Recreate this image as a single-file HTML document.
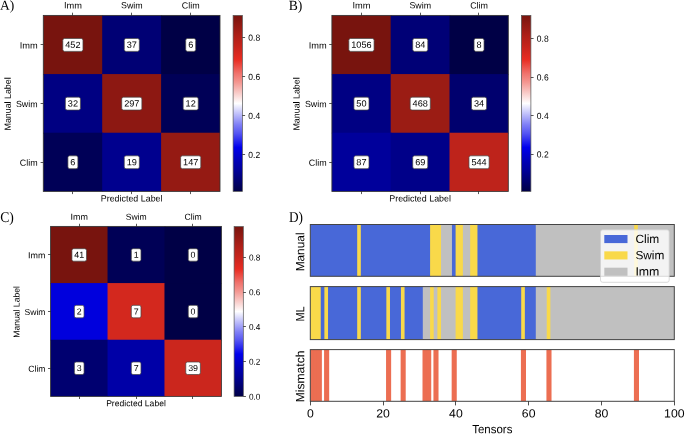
<!DOCTYPE html>
<html><head><meta charset="utf-8"><style>html,body{margin:0;padding:0;background:#fff;}svg{display:block;} text{-webkit-font-smoothing:antialiased;}</style></head>
<body><svg style="will-change:transform" width="685" height="434" viewBox="0 0 685 434" font-family='"Liberation Sans", sans-serif' text-rendering="geometricPrecision"><rect width="685" height="434" fill="#fff"/><rect x="43.3" y="15.4" width="59.9" height="59.67" fill="#78140e" /><rect x="102.2" y="15.4" width="59.9" height="59.67" fill="#000074" /><rect x="161.1" y="15.4" width="58.9" height="59.67" fill="#000046" /><rect x="43.3" y="74.07" width="59.9" height="59.67" fill="#000082" /><rect x="102.2" y="74.07" width="59.9" height="59.67" fill="#8d1812" /><rect x="161.1" y="74.07" width="58.9" height="59.67" fill="#000057" /><rect x="43.3" y="132.73" width="59.9" height="58.67" fill="#000057" /><rect x="102.2" y="132.73" width="59.9" height="58.67" fill="#00008e" /><rect x="161.1" y="132.73" width="58.9" height="58.67" fill="#951a13" /><rect x="43.3" y="15.4" width="176.7" height="176" fill="none" stroke="#333" stroke-width="0.85"/><line x1="72.5" y1="15.4" x2="72.5" y2="12.7" stroke="#222" stroke-width="0.75"/><line x1="72.5" y1="191.4" x2="72.5" y2="194.1" stroke="#222" stroke-width="0.75"/><line x1="43.3" y1="44.5" x2="40.6" y2="44.5" stroke="#222" stroke-width="0.75"/><text x="72.95" y="8.4" font-size="8.96" text-anchor="middle" fill="#000" textLength="17.95" lengthAdjust="spacingAndGlyphs" transform="rotate(0.1 72.95 8.4)" >Imm</text><text x="37.6" y="48.48" font-size="8.96" text-anchor="end" fill="#000" textLength="17.95" lengthAdjust="spacingAndGlyphs" transform="rotate(0.1 37.6 48.48)" >Imm</text><line x1="131.5" y1="15.4" x2="131.5" y2="12.7" stroke="#222" stroke-width="0.75"/><line x1="131.5" y1="191.4" x2="131.5" y2="194.1" stroke="#222" stroke-width="0.75"/><line x1="43.3" y1="103.5" x2="40.6" y2="103.5" stroke="#222" stroke-width="0.75"/><text x="131.85" y="8.4" font-size="8.96" text-anchor="middle" fill="#000" textLength="21.64" lengthAdjust="spacingAndGlyphs" transform="rotate(0.1 131.85 8.4)" >Swim</text><text x="37.6" y="107.15" font-size="8.96" text-anchor="end" fill="#000" textLength="21.64" lengthAdjust="spacingAndGlyphs" transform="rotate(0.1 37.6 107.15)" >Swim</text><line x1="190.5" y1="15.4" x2="190.5" y2="12.7" stroke="#222" stroke-width="0.75"/><line x1="190.5" y1="191.4" x2="190.5" y2="194.1" stroke="#222" stroke-width="0.75"/><line x1="43.3" y1="162.5" x2="40.6" y2="162.5" stroke="#222" stroke-width="0.75"/><text x="190.75" y="8.4" font-size="8.96" text-anchor="middle" fill="#000" textLength="17.82" lengthAdjust="spacingAndGlyphs" transform="rotate(0.1 190.75 8.4)" >Clim</text><text x="37.6" y="165.82" font-size="8.96" text-anchor="end" fill="#000" textLength="17.82" lengthAdjust="spacingAndGlyphs" transform="rotate(0.1 37.6 165.82)" >Clim</text><text x="131.65" y="201.5" font-size="8.96" text-anchor="middle" fill="#000" textLength="61.68" lengthAdjust="spacingAndGlyphs" transform="rotate(0.1 131.65 201.5)" >Predicted Label</text><text x="10.8" y="103.9" font-size="8.96" text-anchor="middle" fill="#000" textLength="53.2" lengthAdjust="spacingAndGlyphs" transform="rotate(-89.9 10.8 103.9)" >Manual Label</text><rect x="62.81" y="38.48" width="20.17" height="12.9" rx="1.8" fill="#fff" stroke="#444" stroke-width="0.7"/><text x="72.9" y="47.88" font-size="8.96" text-anchor="middle" fill="#000" textLength="15.27" lengthAdjust="spacingAndGlyphs" transform="rotate(0.1 72.9 47.88)" >452</text><rect x="124.26" y="38.48" width="15.08" height="12.9" rx="1.8" fill="#fff" stroke="#444" stroke-width="0.7"/><text x="131.8" y="47.88" font-size="8.96" text-anchor="middle" fill="#000" textLength="10.18" lengthAdjust="spacingAndGlyphs" transform="rotate(0.1 131.8 47.88)" >37</text><rect x="185.71" y="38.48" width="9.99" height="12.9" rx="1.8" fill="#fff" stroke="#444" stroke-width="0.7"/><text x="190.7" y="47.88" font-size="8.96" text-anchor="middle" fill="#000" textLength="5.09" lengthAdjust="spacingAndGlyphs" transform="rotate(0.1 190.7 47.88)" >6</text><rect x="65.36" y="97.15" width="15.08" height="12.9" rx="1.8" fill="#fff" stroke="#444" stroke-width="0.7"/><text x="72.9" y="106.55" font-size="8.96" text-anchor="middle" fill="#000" textLength="10.18" lengthAdjust="spacingAndGlyphs" transform="rotate(0.1 72.9 106.55)" >32</text><rect x="121.71" y="97.15" width="20.17" height="12.9" rx="1.8" fill="#fff" stroke="#444" stroke-width="0.7"/><text x="131.8" y="106.55" font-size="8.96" text-anchor="middle" fill="#000" textLength="15.27" lengthAdjust="spacingAndGlyphs" transform="rotate(0.1 131.8 106.55)" >297</text><rect x="183.16" y="97.15" width="15.08" height="12.9" rx="1.8" fill="#fff" stroke="#444" stroke-width="0.7"/><text x="190.7" y="106.55" font-size="8.96" text-anchor="middle" fill="#000" textLength="10.18" lengthAdjust="spacingAndGlyphs" transform="rotate(0.1 190.7 106.55)" >12</text><rect x="67.91" y="155.82" width="9.99" height="12.9" rx="1.8" fill="#fff" stroke="#444" stroke-width="0.7"/><text x="72.9" y="165.22" font-size="8.96" text-anchor="middle" fill="#000" textLength="5.09" lengthAdjust="spacingAndGlyphs" transform="rotate(0.1 72.9 165.22)" >6</text><rect x="124.26" y="155.82" width="15.08" height="12.9" rx="1.8" fill="#fff" stroke="#444" stroke-width="0.7"/><text x="131.8" y="165.22" font-size="8.96" text-anchor="middle" fill="#000" textLength="10.18" lengthAdjust="spacingAndGlyphs" transform="rotate(0.1 131.8 165.22)" >19</text><rect x="180.62" y="155.82" width="20.17" height="12.9" rx="1.8" fill="#fff" stroke="#444" stroke-width="0.7"/><text x="190.7" y="165.22" font-size="8.96" text-anchor="middle" fill="#000" textLength="15.27" lengthAdjust="spacingAndGlyphs" transform="rotate(0.1 190.7 165.22)" >147</text><defs><linearGradient id="cb1" x1="0" y1="1" x2="0" y2="0"><stop offset="0" stop-color="#000046"/><stop offset="0.04" stop-color="#000062"/><stop offset="0.08" stop-color="#00007d"/><stop offset="0.12" stop-color="#000099"/><stop offset="0.17" stop-color="#0000b5"/><stop offset="0.21" stop-color="#0000d0"/><stop offset="0.25" stop-color="#0000ec"/><stop offset="0.29" stop-color="#2b2bef"/><stop offset="0.33" stop-color="#5555f2"/><stop offset="0.38" stop-color="#8080f6"/><stop offset="0.42" stop-color="#aaaaf9"/><stop offset="0.46" stop-color="#d4d4fc"/><stop offset="0.5" stop-color="#ffffff"/><stop offset="0.54" stop-color="#fbdcda"/><stop offset="0.58" stop-color="#f7b9b5"/><stop offset="0.62" stop-color="#f49690"/><stop offset="0.67" stop-color="#f0726c"/><stop offset="0.71" stop-color="#ec4f47"/><stop offset="0.75" stop-color="#e82c22"/><stop offset="0.79" stop-color="#d5281f"/><stop offset="0.83" stop-color="#c3241b"/><stop offset="0.88" stop-color="#b02018"/><stop offset="0.92" stop-color="#9d1c15"/><stop offset="0.96" stop-color="#8b1811"/><stop offset="1" stop-color="#78140e"/></linearGradient></defs><rect x="233.1" y="15.4" width="9.3" height="176" fill="url(#cb1)" stroke="#555" stroke-width="0.7"/><line x1="242.4" y1="154.5" x2="245.1" y2="154.5" stroke="#222" stroke-width="0.75"/><text x="248.3" y="158.05" font-size="8.96" text-anchor="start" fill="#000" textLength="11.83" lengthAdjust="spacingAndGlyphs" transform="rotate(0.1 248.3 158.05)" >0.2</text><line x1="242.4" y1="115.5" x2="245.1" y2="115.5" stroke="#222" stroke-width="0.75"/><text x="248.3" y="118.98" font-size="8.96" text-anchor="start" fill="#000" textLength="11.83" lengthAdjust="spacingAndGlyphs" transform="rotate(0.1 248.3 118.98)" >0.4</text><line x1="242.4" y1="76.5" x2="245.1" y2="76.5" stroke="#222" stroke-width="0.75"/><text x="248.3" y="79.92" font-size="8.96" text-anchor="start" fill="#000" textLength="11.83" lengthAdjust="spacingAndGlyphs" transform="rotate(0.1 248.3 79.92)" >0.6</text><line x1="242.4" y1="37.5" x2="245.1" y2="37.5" stroke="#222" stroke-width="0.75"/><text x="248.3" y="40.85" font-size="8.96" text-anchor="start" fill="#000" textLength="11.83" lengthAdjust="spacingAndGlyphs" transform="rotate(0.1 248.3 40.85)" >0.8</text><rect x="331.9" y="15.4" width="59.8" height="59.67" fill="#78140e" /><rect x="390.7" y="15.4" width="59.8" height="59.67" fill="#000076" /><rect x="449.5" y="15.4" width="58.8" height="59.67" fill="#000046" /><rect x="331.9" y="74.07" width="59.8" height="59.67" fill="#000083" /><rect x="390.7" y="74.07" width="59.8" height="59.67" fill="#9b1c14" /><rect x="449.5" y="74.07" width="58.8" height="59.67" fill="#00006e" /><rect x="331.9" y="132.73" width="59.8" height="58.67" fill="#00009b" /><rect x="390.7" y="132.73" width="59.8" height="58.67" fill="#000089" /><rect x="449.5" y="132.73" width="58.8" height="58.67" fill="#be231b" /><rect x="331.9" y="15.4" width="176.4" height="176" fill="none" stroke="#333" stroke-width="0.85"/><line x1="361.5" y1="15.4" x2="361.5" y2="12.7" stroke="#222" stroke-width="0.75"/><line x1="361.5" y1="191.4" x2="361.5" y2="194.1" stroke="#222" stroke-width="0.75"/><line x1="331.9" y1="44.5" x2="329.2" y2="44.5" stroke="#222" stroke-width="0.75"/><text x="361.5" y="8.4" font-size="8.96" text-anchor="middle" fill="#000" textLength="17.95" lengthAdjust="spacingAndGlyphs" transform="rotate(0.1 361.5 8.4)" >Imm</text><text x="326.6" y="48.48" font-size="8.96" text-anchor="end" fill="#000" textLength="17.95" lengthAdjust="spacingAndGlyphs" transform="rotate(0.1 326.6 48.48)" >Imm</text><line x1="420.5" y1="15.4" x2="420.5" y2="12.7" stroke="#222" stroke-width="0.75"/><line x1="420.5" y1="191.4" x2="420.5" y2="194.1" stroke="#222" stroke-width="0.75"/><line x1="331.9" y1="103.5" x2="329.2" y2="103.5" stroke="#222" stroke-width="0.75"/><text x="420.3" y="8.4" font-size="8.96" text-anchor="middle" fill="#000" textLength="21.64" lengthAdjust="spacingAndGlyphs" transform="rotate(0.1 420.3 8.4)" >Swim</text><text x="326.6" y="107.15" font-size="8.96" text-anchor="end" fill="#000" textLength="21.64" lengthAdjust="spacingAndGlyphs" transform="rotate(0.1 326.6 107.15)" >Swim</text><line x1="478.5" y1="15.4" x2="478.5" y2="12.7" stroke="#222" stroke-width="0.75"/><line x1="478.5" y1="191.4" x2="478.5" y2="194.1" stroke="#222" stroke-width="0.75"/><line x1="331.9" y1="162.5" x2="329.2" y2="162.5" stroke="#222" stroke-width="0.75"/><text x="479.1" y="8.4" font-size="8.96" text-anchor="middle" fill="#000" textLength="17.82" lengthAdjust="spacingAndGlyphs" transform="rotate(0.1 479.1 8.4)" >Clim</text><text x="326.6" y="165.82" font-size="8.96" text-anchor="end" fill="#000" textLength="17.82" lengthAdjust="spacingAndGlyphs" transform="rotate(0.1 326.6 165.82)" >Clim</text><text x="420.1" y="201.5" font-size="8.96" text-anchor="middle" fill="#000" textLength="61.68" lengthAdjust="spacingAndGlyphs" transform="rotate(0.1 420.1 201.5)" >Predicted Label</text><text x="299.5" y="103.9" font-size="8.96" text-anchor="middle" fill="#000" textLength="53.2" lengthAdjust="spacingAndGlyphs" transform="rotate(-89.9 299.5 103.9)" >Manual Label</text><rect x="348.82" y="38.48" width="25.26" height="12.9" rx="1.8" fill="#fff" stroke="#444" stroke-width="0.7"/><text x="361.45" y="47.88" font-size="8.96" text-anchor="middle" fill="#000" textLength="20.36" lengthAdjust="spacingAndGlyphs" transform="rotate(0.1 361.45 47.88)" >1056</text><rect x="412.71" y="38.48" width="15.08" height="12.9" rx="1.8" fill="#fff" stroke="#444" stroke-width="0.7"/><text x="420.25" y="47.88" font-size="8.96" text-anchor="middle" fill="#000" textLength="10.18" lengthAdjust="spacingAndGlyphs" transform="rotate(0.1 420.25 47.88)" >84</text><rect x="474.05" y="38.48" width="9.99" height="12.9" rx="1.8" fill="#fff" stroke="#444" stroke-width="0.7"/><text x="479.05" y="47.88" font-size="8.96" text-anchor="middle" fill="#000" textLength="5.09" lengthAdjust="spacingAndGlyphs" transform="rotate(0.1 479.05 47.88)" >8</text><rect x="353.91" y="97.15" width="15.08" height="12.9" rx="1.8" fill="#fff" stroke="#444" stroke-width="0.7"/><text x="361.45" y="106.55" font-size="8.96" text-anchor="middle" fill="#000" textLength="10.18" lengthAdjust="spacingAndGlyphs" transform="rotate(0.1 361.45 106.55)" >50</text><rect x="410.17" y="97.15" width="20.17" height="12.9" rx="1.8" fill="#fff" stroke="#444" stroke-width="0.7"/><text x="420.25" y="106.55" font-size="8.96" text-anchor="middle" fill="#000" textLength="15.27" lengthAdjust="spacingAndGlyphs" transform="rotate(0.1 420.25 106.55)" >468</text><rect x="471.51" y="97.15" width="15.08" height="12.9" rx="1.8" fill="#fff" stroke="#444" stroke-width="0.7"/><text x="479.05" y="106.55" font-size="8.96" text-anchor="middle" fill="#000" textLength="10.18" lengthAdjust="spacingAndGlyphs" transform="rotate(0.1 479.05 106.55)" >34</text><rect x="353.91" y="155.82" width="15.08" height="12.9" rx="1.8" fill="#fff" stroke="#444" stroke-width="0.7"/><text x="361.45" y="165.22" font-size="8.96" text-anchor="middle" fill="#000" textLength="10.18" lengthAdjust="spacingAndGlyphs" transform="rotate(0.1 361.45 165.22)" >87</text><rect x="412.71" y="155.82" width="15.08" height="12.9" rx="1.8" fill="#fff" stroke="#444" stroke-width="0.7"/><text x="420.25" y="165.22" font-size="8.96" text-anchor="middle" fill="#000" textLength="10.18" lengthAdjust="spacingAndGlyphs" transform="rotate(0.1 420.25 165.22)" >69</text><rect x="468.96" y="155.82" width="20.17" height="12.9" rx="1.8" fill="#fff" stroke="#444" stroke-width="0.7"/><text x="479.05" y="165.22" font-size="8.96" text-anchor="middle" fill="#000" textLength="15.27" lengthAdjust="spacingAndGlyphs" transform="rotate(0.1 479.05 165.22)" >544</text><defs><linearGradient id="cb2" x1="0" y1="1" x2="0" y2="0"><stop offset="0" stop-color="#000046"/><stop offset="0.04" stop-color="#000062"/><stop offset="0.08" stop-color="#00007d"/><stop offset="0.12" stop-color="#000099"/><stop offset="0.17" stop-color="#0000b5"/><stop offset="0.21" stop-color="#0000d0"/><stop offset="0.25" stop-color="#0000ec"/><stop offset="0.29" stop-color="#2b2bef"/><stop offset="0.33" stop-color="#5555f2"/><stop offset="0.38" stop-color="#8080f6"/><stop offset="0.42" stop-color="#aaaaf9"/><stop offset="0.46" stop-color="#d4d4fc"/><stop offset="0.5" stop-color="#ffffff"/><stop offset="0.54" stop-color="#fbdcda"/><stop offset="0.58" stop-color="#f7b9b5"/><stop offset="0.62" stop-color="#f49690"/><stop offset="0.67" stop-color="#f0726c"/><stop offset="0.71" stop-color="#ec4f47"/><stop offset="0.75" stop-color="#e82c22"/><stop offset="0.79" stop-color="#d5281f"/><stop offset="0.83" stop-color="#c3241b"/><stop offset="0.88" stop-color="#b02018"/><stop offset="0.92" stop-color="#9d1c15"/><stop offset="0.96" stop-color="#8b1811"/><stop offset="1" stop-color="#78140e"/></linearGradient></defs><rect x="521.4" y="15.4" width="9.5" height="176" fill="url(#cb2)" stroke="#555" stroke-width="0.7"/><line x1="530.9" y1="154.5" x2="533.6" y2="154.5" stroke="#222" stroke-width="0.75"/><text x="536.8" y="157.53" font-size="8.96" text-anchor="start" fill="#000" textLength="11.83" lengthAdjust="spacingAndGlyphs" transform="rotate(0.1 536.8 157.53)" >0.2</text><line x1="530.9" y1="115.5" x2="533.6" y2="115.5" stroke="#222" stroke-width="0.75"/><text x="536.8" y="118.98" font-size="8.96" text-anchor="start" fill="#000" textLength="11.83" lengthAdjust="spacingAndGlyphs" transform="rotate(0.1 536.8 118.98)" >0.4</text><line x1="530.9" y1="77.5" x2="533.6" y2="77.5" stroke="#222" stroke-width="0.75"/><text x="536.8" y="80.42" font-size="8.96" text-anchor="start" fill="#000" textLength="11.83" lengthAdjust="spacingAndGlyphs" transform="rotate(0.1 536.8 80.42)" >0.6</text><line x1="530.9" y1="38.5" x2="533.6" y2="38.5" stroke="#222" stroke-width="0.75"/><text x="536.8" y="41.86" font-size="8.96" text-anchor="start" fill="#000" textLength="11.83" lengthAdjust="spacingAndGlyphs" transform="rotate(0.1 536.8 41.86)" >0.8</text><rect x="50.6" y="226.4" width="57.93" height="57.67" fill="#78140e" /><rect x="107.53" y="226.4" width="57.93" height="57.67" fill="#000056" /><rect x="164.47" y="226.4" width="56.93" height="57.67" fill="#000046" /><rect x="50.6" y="283.07" width="57.93" height="57.67" fill="#0000dd" /><rect x="107.53" y="283.07" width="57.93" height="57.67" fill="#d3281e" /><rect x="164.47" y="283.07" width="56.93" height="57.67" fill="#000046" /><rect x="50.6" y="339.73" width="57.93" height="56.67" fill="#000070" /><rect x="107.53" y="339.73" width="57.93" height="56.67" fill="#0000a7" /><rect x="164.47" y="339.73" width="56.93" height="56.67" fill="#cb261d" /><rect x="50.6" y="226.4" width="170.8" height="170" fill="none" stroke="#333" stroke-width="0.85"/><line x1="79.5" y1="226.4" x2="79.5" y2="223.79" stroke="#222" stroke-width="0.75"/><line x1="79.5" y1="396.4" x2="79.5" y2="399.01" stroke="#222" stroke-width="0.75"/><line x1="50.6" y1="254.5" x2="47.99" y2="254.5" stroke="#222" stroke-width="0.75"/><text x="79.27" y="219.7" font-size="8.67" text-anchor="middle" fill="#000" textLength="17.37" lengthAdjust="spacingAndGlyphs" transform="rotate(0.1 79.27 219.7)" >Imm</text><text x="45.5" y="258.39" font-size="8.67" text-anchor="end" fill="#000" textLength="17.37" lengthAdjust="spacingAndGlyphs" transform="rotate(0.1 45.5 258.39)" >Imm</text><line x1="136.5" y1="226.4" x2="136.5" y2="223.79" stroke="#222" stroke-width="0.75"/><line x1="136.5" y1="396.4" x2="136.5" y2="399.01" stroke="#222" stroke-width="0.75"/><line x1="50.6" y1="311.5" x2="47.99" y2="311.5" stroke="#222" stroke-width="0.75"/><text x="136.2" y="219.7" font-size="8.67" text-anchor="middle" fill="#000" textLength="20.94" lengthAdjust="spacingAndGlyphs" transform="rotate(0.1 136.2 219.7)" >Swim</text><text x="45.5" y="315.06" font-size="8.67" text-anchor="end" fill="#000" textLength="20.94" lengthAdjust="spacingAndGlyphs" transform="rotate(0.1 45.5 315.06)" >Swim</text><line x1="192.5" y1="226.4" x2="192.5" y2="223.79" stroke="#222" stroke-width="0.75"/><line x1="192.5" y1="396.4" x2="192.5" y2="399.01" stroke="#222" stroke-width="0.75"/><line x1="50.6" y1="368.5" x2="47.99" y2="368.5" stroke="#222" stroke-width="0.75"/><text x="193.13" y="219.7" font-size="8.67" text-anchor="middle" fill="#000" textLength="17.25" lengthAdjust="spacingAndGlyphs" transform="rotate(0.1 193.13 219.7)" >Clim</text><text x="45.5" y="371.72" font-size="8.67" text-anchor="end" fill="#000" textLength="17.25" lengthAdjust="spacingAndGlyphs" transform="rotate(0.1 45.5 371.72)" >Clim</text><text x="136" y="406.2" font-size="8.67" text-anchor="middle" fill="#000" textLength="59.71" lengthAdjust="spacingAndGlyphs" transform="rotate(0.1 136 406.2)" >Predicted Label</text><text x="19.5" y="311.9" font-size="8.67" text-anchor="middle" fill="#000" textLength="51.49" lengthAdjust="spacingAndGlyphs" transform="rotate(-89.9 19.5 311.9)" >Manual Label</text><rect x="71.92" y="248.69" width="14.6" height="12.49" rx="1.74" fill="#fff" stroke="#444" stroke-width="0.7"/><text x="79.22" y="257.79" font-size="8.67" text-anchor="middle" fill="#000" textLength="9.85" lengthAdjust="spacingAndGlyphs" transform="rotate(0.1 79.22 257.79)" >41</text><rect x="131.31" y="248.69" width="9.67" height="12.49" rx="1.74" fill="#fff" stroke="#444" stroke-width="0.7"/><text x="136.15" y="257.79" font-size="8.67" text-anchor="middle" fill="#000" textLength="4.93" lengthAdjust="spacingAndGlyphs" transform="rotate(0.1 136.15 257.79)" >1</text><rect x="188.25" y="248.69" width="9.67" height="12.49" rx="1.74" fill="#fff" stroke="#444" stroke-width="0.7"/><text x="193.08" y="257.79" font-size="8.67" text-anchor="middle" fill="#000" textLength="4.93" lengthAdjust="spacingAndGlyphs" transform="rotate(0.1 193.08 257.79)" >0</text><rect x="74.38" y="305.36" width="9.67" height="12.49" rx="1.74" fill="#fff" stroke="#444" stroke-width="0.7"/><text x="79.22" y="314.46" font-size="8.67" text-anchor="middle" fill="#000" textLength="4.93" lengthAdjust="spacingAndGlyphs" transform="rotate(0.1 79.22 314.46)" >2</text><rect x="131.31" y="305.36" width="9.67" height="12.49" rx="1.74" fill="#fff" stroke="#444" stroke-width="0.7"/><text x="136.15" y="314.46" font-size="8.67" text-anchor="middle" fill="#000" textLength="4.93" lengthAdjust="spacingAndGlyphs" transform="rotate(0.1 136.15 314.46)" >7</text><rect x="188.25" y="305.36" width="9.67" height="12.49" rx="1.74" fill="#fff" stroke="#444" stroke-width="0.7"/><text x="193.08" y="314.46" font-size="8.67" text-anchor="middle" fill="#000" textLength="4.93" lengthAdjust="spacingAndGlyphs" transform="rotate(0.1 193.08 314.46)" >0</text><rect x="74.38" y="362.02" width="9.67" height="12.49" rx="1.74" fill="#fff" stroke="#444" stroke-width="0.7"/><text x="79.22" y="371.12" font-size="8.67" text-anchor="middle" fill="#000" textLength="4.93" lengthAdjust="spacingAndGlyphs" transform="rotate(0.1 79.22 371.12)" >3</text><rect x="131.31" y="362.02" width="9.67" height="12.49" rx="1.74" fill="#fff" stroke="#444" stroke-width="0.7"/><text x="136.15" y="371.12" font-size="8.67" text-anchor="middle" fill="#000" textLength="4.93" lengthAdjust="spacingAndGlyphs" transform="rotate(0.1 136.15 371.12)" >7</text><rect x="185.78" y="362.02" width="14.6" height="12.49" rx="1.74" fill="#fff" stroke="#444" stroke-width="0.7"/><text x="193.08" y="371.12" font-size="8.67" text-anchor="middle" fill="#000" textLength="9.85" lengthAdjust="spacingAndGlyphs" transform="rotate(0.1 193.08 371.12)" >39</text><defs><linearGradient id="cb3" x1="0" y1="1" x2="0" y2="0"><stop offset="0" stop-color="#000046"/><stop offset="0.04" stop-color="#000062"/><stop offset="0.08" stop-color="#00007d"/><stop offset="0.12" stop-color="#000099"/><stop offset="0.17" stop-color="#0000b5"/><stop offset="0.21" stop-color="#0000d0"/><stop offset="0.25" stop-color="#0000ec"/><stop offset="0.29" stop-color="#2b2bef"/><stop offset="0.33" stop-color="#5555f2"/><stop offset="0.38" stop-color="#8080f6"/><stop offset="0.42" stop-color="#aaaaf9"/><stop offset="0.46" stop-color="#d4d4fc"/><stop offset="0.5" stop-color="#ffffff"/><stop offset="0.54" stop-color="#fbdcda"/><stop offset="0.58" stop-color="#f7b9b5"/><stop offset="0.62" stop-color="#f49690"/><stop offset="0.67" stop-color="#f0726c"/><stop offset="0.71" stop-color="#ec4f47"/><stop offset="0.75" stop-color="#e82c22"/><stop offset="0.79" stop-color="#d5281f"/><stop offset="0.83" stop-color="#c3241b"/><stop offset="0.88" stop-color="#b02018"/><stop offset="0.92" stop-color="#9d1c15"/><stop offset="0.96" stop-color="#8b1811"/><stop offset="1" stop-color="#78140e"/></linearGradient></defs><rect x="234.1" y="226.6" width="9.2" height="169.8" fill="url(#cb3)" stroke="#555" stroke-width="0.7"/><line x1="243.3" y1="396.5" x2="245.91" y2="396.5" stroke="#222" stroke-width="0.75"/><text x="249.01" y="399.66" font-size="8.67" text-anchor="start" fill="#000" textLength="11.45" lengthAdjust="spacingAndGlyphs" transform="rotate(0.1 249.01 399.66)" >0.0</text><line x1="243.3" y1="361.5" x2="245.91" y2="361.5" stroke="#222" stroke-width="0.75"/><text x="249.01" y="364.87" font-size="8.67" text-anchor="start" fill="#000" textLength="11.45" lengthAdjust="spacingAndGlyphs" transform="rotate(0.1 249.01 364.87)" >0.2</text><line x1="243.3" y1="326.5" x2="245.91" y2="326.5" stroke="#222" stroke-width="0.75"/><text x="249.01" y="330.08" font-size="8.67" text-anchor="start" fill="#000" textLength="11.45" lengthAdjust="spacingAndGlyphs" transform="rotate(0.1 249.01 330.08)" >0.4</text><line x1="243.3" y1="292.5" x2="245.91" y2="292.5" stroke="#222" stroke-width="0.75"/><text x="249.01" y="295.29" font-size="8.67" text-anchor="start" fill="#000" textLength="11.45" lengthAdjust="spacingAndGlyphs" transform="rotate(0.1 249.01 295.29)" >0.6</text><line x1="243.3" y1="257.5" x2="245.91" y2="257.5" stroke="#222" stroke-width="0.75"/><text x="249.01" y="260.5" font-size="8.67" text-anchor="start" fill="#000" textLength="11.45" lengthAdjust="spacingAndGlyphs" transform="rotate(0.1 249.01 260.5)" >0.8</text><text x="0" y="9.7" font-size="13.6" font-family='"Liberation Serif", serif' fill="#000" transform="rotate(0.1 0 9.7)" textLength="14.3" lengthAdjust="spacingAndGlyphs">A)</text><text x="288.8" y="10" font-size="14" font-family='"Liberation Serif", serif' fill="#000" transform="rotate(0.1 288.8 10)" textLength="13.6" lengthAdjust="spacingAndGlyphs">B)</text><text x="0.3" y="222" font-size="14.8" font-family='"Liberation Serif", serif' fill="#000" transform="rotate(0.1 0.3 222)" textLength="13.6" lengthAdjust="spacingAndGlyphs">C)</text><text x="288.9" y="222" font-size="15" font-family='"Liberation Serif", serif' fill="#000" transform="rotate(0.1 288.9 222)" textLength="14" lengthAdjust="spacingAndGlyphs">D)</text><rect x="310.3" y="224.5" width="47.88" height="51.8" fill="#4868d8" /><rect x="357.19" y="224.5" width="4.65" height="51.8" fill="#f9d94a" /><rect x="360.83" y="224.5" width="70.25" height="51.8" fill="#4868d8" /><rect x="430.09" y="224.5" width="11.93" height="51.8" fill="#f9d94a" /><rect x="441.02" y="224.5" width="11.94" height="51.8" fill="#c0c0c0" /><rect x="451.96" y="224.5" width="4.64" height="51.8" fill="#4868d8" /><rect x="455.6" y="224.5" width="8.29" height="51.8" fill="#f9d94a" /><rect x="462.89" y="224.5" width="8.29" height="51.8" fill="#c0c0c0" /><rect x="470.18" y="224.5" width="8.29" height="51.8" fill="#f9d94a" /><rect x="477.47" y="224.5" width="59.32" height="51.8" fill="#4868d8" /><rect x="535.79" y="224.5" width="99.42" height="51.8" fill="#c0c0c0" /><rect x="634.21" y="224.5" width="4.64" height="51.8" fill="#f9d94a" /><rect x="637.85" y="224.5" width="36.45" height="51.8" fill="#c0c0c0" /><rect x="310.3" y="224.5" width="364" height="51.8" fill="none" stroke="#444" stroke-width="1"/><rect x="310.3" y="286.6" width="11.44" height="53" fill="#f9d94a" /><rect x="320.74" y="286.6" width="4.64" height="53" fill="#4868d8" /><rect x="324.38" y="286.6" width="4.65" height="53" fill="#f9d94a" /><rect x="328.03" y="286.6" width="30.16" height="53" fill="#4868d8" /><rect x="357.19" y="286.6" width="4.65" height="53" fill="#f9d94a" /><rect x="360.83" y="286.6" width="26.51" height="53" fill="#4868d8" /><rect x="386.35" y="286.6" width="4.64" height="53" fill="#f9d94a" /><rect x="389.99" y="286.6" width="11.94" height="53" fill="#4868d8" /><rect x="400.93" y="286.6" width="4.64" height="53" fill="#f9d94a" /><rect x="404.57" y="286.6" width="19.23" height="53" fill="#4868d8" /><rect x="422.8" y="286.6" width="8.29" height="53" fill="#c0c0c0" /><rect x="430.09" y="286.6" width="4.64" height="53" fill="#f9d94a" /><rect x="433.73" y="286.6" width="4.64" height="53" fill="#c0c0c0" /><rect x="437.38" y="286.6" width="4.64" height="53" fill="#f9d94a" /><rect x="441.02" y="286.6" width="15.58" height="53" fill="#c0c0c0" /><rect x="455.6" y="286.6" width="8.29" height="53" fill="#f9d94a" /><rect x="462.89" y="286.6" width="8.29" height="53" fill="#c0c0c0" /><rect x="470.18" y="286.6" width="8.29" height="53" fill="#f9d94a" /><rect x="477.47" y="286.6" width="44.74" height="53" fill="#4868d8" /><rect x="521.21" y="286.6" width="4.64" height="53" fill="#f9d94a" /><rect x="524.86" y="286.6" width="11.93" height="53" fill="#4868d8" /><rect x="535.79" y="286.6" width="11.94" height="53" fill="#c0c0c0" /><rect x="546.73" y="286.6" width="4.64" height="53" fill="#f9d94a" /><rect x="550.37" y="286.6" width="123.93" height="53" fill="#c0c0c0" /><rect x="310.3" y="286.6" width="364" height="53" fill="none" stroke="#444" stroke-width="1"/><clipPath id="mmclip"><rect x="310.3" y="349.6" width="364" height="51.7"/></clipPath><g clip-path="url(#mmclip)"><rect x="309.5" y="349.6" width="5.09" height="51.7" fill="#ec6e52" /><rect x="313.14" y="349.6" width="5.1" height="51.7" fill="#ec6e52" /><rect x="316.79" y="349.6" width="5.09" height="51.7" fill="#ec6e52" /><rect x="324.08" y="349.6" width="5.1" height="51.7" fill="#ec6e52" /><rect x="386.05" y="349.6" width="5.09" height="51.7" fill="#ec6e52" /><rect x="400.62" y="349.6" width="5.09" height="51.7" fill="#ec6e52" /><rect x="422.5" y="349.6" width="5.09" height="51.7" fill="#ec6e52" /><rect x="426.14" y="349.6" width="5.1" height="51.7" fill="#ec6e52" /><rect x="433.43" y="349.6" width="5.09" height="51.7" fill="#ec6e52" /><rect x="451.66" y="349.6" width="5.09" height="51.7" fill="#ec6e52" /><rect x="520.91" y="349.6" width="5.09" height="51.7" fill="#ec6e52" /><rect x="546.43" y="349.6" width="5.09" height="51.7" fill="#ec6e52" /><rect x="633.91" y="349.6" width="5.09" height="51.7" fill="#ec6e52" /></g><rect x="310.3" y="349.6" width="364" height="51.7" fill="none" stroke="#444" stroke-width="1"/><line x1="310.5" y1="401.3" x2="310.5" y2="405.4" stroke="#222" stroke-width="0.8"/><text x="310.3" y="417.6" font-size="11.98" text-anchor="middle" fill="#000" textLength="6.81" lengthAdjust="spacingAndGlyphs" transform="rotate(0.1 310.3 417.6)" >0</text><line x1="383.5" y1="401.3" x2="383.5" y2="405.4" stroke="#222" stroke-width="0.8"/><text x="383.1" y="417.6" font-size="11.98" text-anchor="middle" fill="#000" textLength="13.62" lengthAdjust="spacingAndGlyphs" transform="rotate(0.1 383.1 417.6)" >20</text><line x1="455.5" y1="401.3" x2="455.5" y2="405.4" stroke="#222" stroke-width="0.8"/><text x="455.9" y="417.6" font-size="11.98" text-anchor="middle" fill="#000" textLength="13.62" lengthAdjust="spacingAndGlyphs" transform="rotate(0.1 455.9 417.6)" >40</text><line x1="528.5" y1="401.3" x2="528.5" y2="405.4" stroke="#222" stroke-width="0.8"/><text x="528.7" y="417.6" font-size="11.98" text-anchor="middle" fill="#000" textLength="13.62" lengthAdjust="spacingAndGlyphs" transform="rotate(0.1 528.7 417.6)" >60</text><line x1="601.5" y1="401.3" x2="601.5" y2="405.4" stroke="#222" stroke-width="0.8"/><text x="601.5" y="417.6" font-size="11.98" text-anchor="middle" fill="#000" textLength="13.62" lengthAdjust="spacingAndGlyphs" transform="rotate(0.1 601.5 417.6)" >80</text><line x1="674.5" y1="401.3" x2="674.5" y2="405.4" stroke="#222" stroke-width="0.8"/><text x="674.3" y="417.6" font-size="11.98" text-anchor="middle" fill="#000" textLength="20.42" lengthAdjust="spacingAndGlyphs" transform="rotate(0.1 674.3 417.6)" >100</text><text x="492.3" y="433.3" font-size="11.98" text-anchor="middle" fill="#000" textLength="40.18" lengthAdjust="spacingAndGlyphs" transform="rotate(0.1 492.3 433.3)" >Tensors</text><text x="304.2" y="251.9" font-size="11.98" text-anchor="middle" fill="#000" textLength="38.88" lengthAdjust="spacingAndGlyphs" transform="rotate(-89.9 304.2 251.9)" >Manual</text><text x="304.2" y="314" font-size="11.98" text-anchor="middle" fill="#000" textLength="15.19" lengthAdjust="spacingAndGlyphs" transform="rotate(-89.9 304.2 314)" >ML</text><text x="304.2" y="376.4" font-size="11.98" text-anchor="middle" fill="#000" textLength="51.62" lengthAdjust="spacingAndGlyphs" transform="rotate(-89.9 304.2 376.4)" >Mismatch</text><clipPath id="legclip"><rect x="590" y="220" width="90" height="56"/></clipPath><rect x="600.5" y="229.8" width="68.7" height="52.5" rx="2.2" fill="#fff" fill-opacity="0.8" stroke="#d0d0d0" stroke-width="0.8"/><g clip-path="url(#legclip)"><rect x="604.3" y="235" width="23.2" height="8.1" fill="#4868d8" /><text x="635.4" y="242.9" font-size="11.98" text-anchor="start" fill="#000" textLength="23.84" lengthAdjust="spacingAndGlyphs" transform="rotate(0.1 635.4 242.9)" >Clim</text><rect x="604.3" y="251.35" width="23.2" height="8.1" fill="#f9d94a" /><text x="635.4" y="259.25" font-size="11.98" text-anchor="start" fill="#000" textLength="28.94" lengthAdjust="spacingAndGlyphs" transform="rotate(0.1 635.4 259.25)" >Swim</text><rect x="604.3" y="267.7" width="23.2" height="8.1" fill="#c0c0c0" /><text x="635.4" y="275.6" font-size="11.98" text-anchor="start" fill="#000" textLength="24" lengthAdjust="spacingAndGlyphs" transform="rotate(0.1 635.4 275.6)" >Imm</text></g></svg></body></html>
